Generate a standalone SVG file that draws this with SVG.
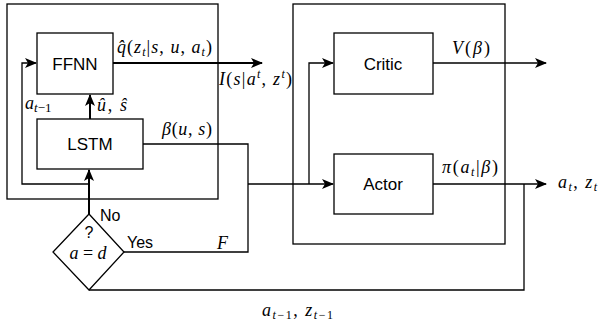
<svg xmlns="http://www.w3.org/2000/svg" width="599" height="328" viewBox="0 0 599 328">
<style>
.box{fill:#fff;stroke:#000;stroke-width:1.3}
.frame{fill:none;stroke:#000;stroke-width:1.3}
.ln{fill:none;stroke:#000;stroke-width:1.3}
.thk{fill:none;stroke:#000;stroke-width:2}
.lbl{font-family:"Liberation Sans",Arial,sans-serif;font-size:17px;fill:#000;text-anchor:middle}
.sm{font-family:"Liberation Sans",Arial,sans-serif;font-size:16px;fill:#000}
.m{font-family:"Liberation Serif","Times New Roman",serif;font-style:italic;font-size:18px;fill:#000}
.r{font-style:normal}
.s{font-size:12px}
</style>
<defs>
<marker id="arr" markerUnits="userSpaceOnUse" markerWidth="13" markerHeight="11" refX="11" refY="5.5" orient="auto">
<path d="M0,0.5 L12,5.5 L0,10.5 L3,5.5 z" fill="#000"/>
</marker>
</defs>
<rect class="frame" x="7" y="4" width="211" height="195"/>
<rect class="frame" x="293" y="4" width="212" height="240"/>
<g id="connectors">
<path class="thk" d="M113,63 H262" marker-end="url(#arr)"/>
<path class="thk" d="M90,119 V95" marker-end="url(#arr)"/>
<path class="thk" d="M89,214 V170" marker-end="url(#arr)"/>
<path class="ln" d="M90,184 H22 V63 H36" marker-end="url(#arr)"/>
<path class="ln" d="M143,144 H248 V252 H124"/>
<path class="ln" d="M248,184 H333" marker-end="url(#arr)"/>
<path class="ln" d="M309,184 V63 H333" marker-end="url(#arr)"/>
<path class="ln" d="M433,63 H546" marker-end="url(#arr)"/>
<path class="ln" d="M433,184 H546" marker-end="url(#arr)"/>
<path class="ln" d="M89,290 H524 V184"/>
</g>
<g id="ffnn"><rect class="box" x="37" y="33" width="76" height="61"/><text class="lbl" x="75" y="70">FFNN</text></g>
<g id="lstm"><rect class="box" x="37" y="119" width="106" height="50"/><text class="lbl" x="90" y="150">LSTM</text></g>
<g id="critic"><rect class="box" x="334" y="33" width="99" height="61"/><text class="lbl" x="383" y="70">Critic</text></g>
<g id="actor"><rect class="box" x="334" y="154" width="99" height="60"/><text class="lbl" x="383" y="190">Actor</text></g>
<g id="decision"><path class="box" d="M89,214 L124,252 L89,290 L53,252 z"/>
<text class="sm" x="89" y="238" text-anchor="middle">?</text>
<text class="m" x="88" y="259" font-size="22" text-anchor="middle">a<tspan class="r"> = </tspan>d</text></g>
<g id="labels">
<text class="m" x="117" y="53" textLength="95" lengthAdjust="spacing">q̂<tspan class="r">(</tspan>z<tspan class="s" dy="3">t</tspan><tspan class="r" dy="-3">|</tspan>s<tspan class="r">, </tspan>u<tspan class="r">, </tspan>a<tspan class="s" dy="3">t</tspan><tspan class="r" dy="-3">)</tspan></text>
<text class="m" x="219" y="85" textLength="73" lengthAdjust="spacing">I<tspan class="r">(</tspan>s<tspan class="r">|</tspan>a<tspan class="s" dy="-7">t</tspan><tspan class="r" dy="7">, </tspan>z<tspan class="s" dy="-7">t</tspan><tspan class="r" dy="7">)</tspan></text>
<text class="m" x="25" y="109">a<tspan font-size="13" dy="3">t<tspan class="r">−1</tspan></tspan></text>
<text class="m" x="97" y="111" textLength="30" lengthAdjust="spacing">û<tspan class="r">, </tspan>ŝ</text>
<text class="m" x="162" y="135" textLength="50" lengthAdjust="spacing">β<tspan class="r">(</tspan>u<tspan class="r">, </tspan>s<tspan class="r">)</tspan></text>
<text class="sm" x="100" y="221">No</text>
<text class="sm" x="127" y="248">Yes</text>
<text class="m" x="217" y="249" font-size="20">F</text>
<text class="m" x="262" y="316" textLength="71" lengthAdjust="spacing">a<tspan class="s" dy="3">t<tspan class="r">−1</tspan></tspan><tspan class="r" dy="-3">, </tspan>z<tspan class="s" dy="3">t<tspan class="r">−1</tspan></tspan></text>
<text class="m" x="452" y="54" textLength="38" lengthAdjust="spacing">V<tspan class="r">(</tspan>β<tspan class="r">)</tspan></text>
<text class="m" x="442" y="173" textLength="56" lengthAdjust="spacing">π<tspan class="r">(</tspan>a<tspan class="s" dy="3">t</tspan><tspan class="r" dy="-3">|</tspan>β<tspan class="r">)</tspan></text>
<text class="m" x="558" y="188" textLength="39" lengthAdjust="spacing">a<tspan class="s" dy="3">t</tspan><tspan class="r" dy="-3">, </tspan>z<tspan class="s" dy="3">t</tspan></text>
</g>
</svg>
